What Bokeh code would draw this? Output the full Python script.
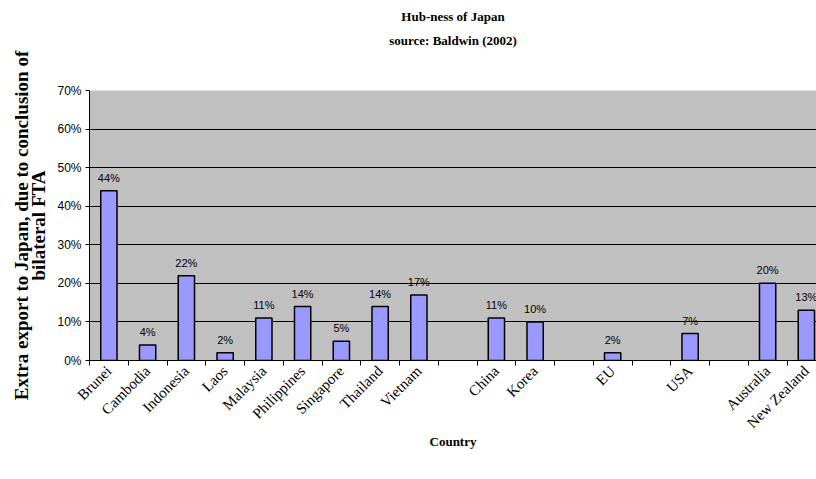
import math
from bokeh.plotting import figure
from bokeh.models import (ColumnDataSource, Range1d, FixedTicker, LabelSet,
                          PrintfTickFormatter, Title)
from bokeh.core.properties import value
from bokeh.embed import file_html
from bokeh.resources import INLINE

# ---- data ----
categories = ["Brunei", "Cambodia", "Indonesia", "Laos", "Malaysia", "Philippines",
              "Singapore", "Thailand", "Vietnam", "", "China", "Korea", "", "EU", "",
              "USA", "", "Australia", "New Zealand"]
values = [44, 4, 22, 2, 11, 14, 5, 14, 17, None, 11, 10, None, 2, None, 7, None, 20, 13]
y_ticks = [0, 10, 20, 30, 40, 50, 60, 70]
title_lines = ["Hub-ness of Japan", "source: Baldwin (2002)"]
x_title = "Country"
y_title = "Extra export to Japan, due to conclusion of\nbilateral FTA"

SERIF = "Liberation Serif"
SANS = "Liberation Sans"

idx = [i for i, v in enumerate(values) if v is not None]
src = ColumnDataSource(dict(
    x=idx,
    top=[values[i] for i in idx],
    label=[f"{values[i]}%" for i in idx],
))

# layout: frame from x=89 to the right edge, y=90..360
left, top_b, bottom_b = 89, 90, 119
frame_w = 816 - left
slot_px = 38.75
x_start = -0.5
x_end = x_start + frame_w / slot_px

p = figure(width=816, height=479, output_backend="svg", toolbar_location=None,
           x_range=Range1d(x_start, x_end), y_range=Range1d(0, y_ticks[-1]),
           min_border_left=left, min_border_right=0, min_border_top=top_b,
           min_border_bottom=bottom_b, title=None)
p.background_fill_color = "#C0C0C0"
p.border_fill_color = "white"
p.outline_line_color = None

# bars
p.vbar(x="x", top="top", width=0.42, source=src, fill_color="#9999FF",
       line_color="black", line_width=1.5)

# data labels
p.add_layout(LabelSet(x="x", y="top", text="label", source=src, y_offset=7,
                      text_align="center", text_baseline="bottom",
                      text_font=value(SANS), text_font_size=value("11px"),
                      text_color="black"))

# x axis: labels at slot centres, tick marks at slot boundaries
xa = p.xaxis[0]
xa.ticker = FixedTicker(ticks=idx, minor_ticks=[i - 0.5 for i in range(len(categories) + 1)])
xa.major_label_overrides = {i: categories[i] for i in idx}
xa.major_label_orientation = math.pi / 4
xa.major_label_text_font = SERIF
xa.major_label_text_font_size = "15px"
xa.major_label_text_color = "black"
xa.major_label_standoff = 3
xa.major_tick_out = 0
xa.major_tick_in = 0
xa.minor_tick_out = 5
xa.minor_tick_in = 0
xa.minor_tick_line_color = "black"
xa.axis_line_color = "black"
xa.axis_label = x_title
xa.axis_label_text_font = SERIF
xa.axis_label_text_font_style = "bold"
xa.axis_label_text_font_size = "13px"
xa.axis_label_text_color = "black"
xa.axis_label_standoff = -6

# y axis
ya = p.yaxis[0]
ya.ticker = FixedTicker(ticks=y_ticks)
ya.formatter = PrintfTickFormatter(format="%d%%")
ya.major_label_text_font = SANS
ya.major_label_text_font_size = "12px"
ya.major_label_text_color = "black"
ya.major_label_standoff = 4
ya.major_tick_out = 4
ya.major_tick_in = 0
ya.minor_tick_line_color = None
ya.axis_line_color = "black"
ya.axis_label = y_title
ya.axis_label_text_font = SERIF
ya.axis_label_text_font_style = "bold"
ya.axis_label_text_font_size = "19px"
ya.axis_label_text_line_height = 0.85
ya.axis_label_text_color = "black"
ya.axis_label_standoff = 5

p.xgrid.grid_line_color = None
p.ygrid.ticker = FixedTicker(ticks=y_ticks)
p.ygrid.grid_line_color = "black"
p.ygrid.grid_line_width = 1

# chart title: spacer (closest to frame), subtitle, small gap, main title
p.add_layout(Title(text=" ", text_font_size="37px", standoff=0), "above")
p.add_layout(Title(text=title_lines[1], align="center", text_font=SERIF,
                   text_font_style="bold", text_font_size="13px",
                   text_color="black", standoff=0), "above")
p.add_layout(Title(text=" ", text_font_size="4px", standoff=0), "above")
p.add_layout(Title(text=title_lines[0], align="center", text_font=SERIF,
                   text_font_style="bold", text_font_size="13px",
                   text_color="black", standoff=0), "above")

open("out.html", "w").write(file_html(p, INLINE))
